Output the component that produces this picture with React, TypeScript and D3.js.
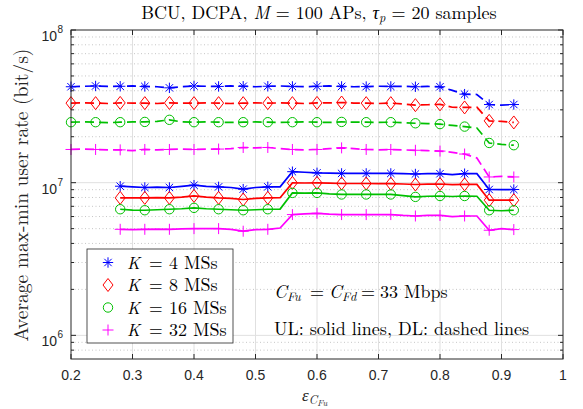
import React from 'react';
import * as d3 from 'd3';

const W = 583;
const H = 409;

// x positions of the curve samples (epsilon_CFu)
const xs = [0.2, 0.22, 0.24, 0.26, 0.28, 0.3, 0.32, 0.34, 0.36, 0.38, 0.4, 0.42, 0.44, 0.46, 0.48, 0.5, 0.52, 0.54,
  0.56, 0.58, 0.6, 0.62, 0.64, 0.66, 0.68, 0.7, 0.72, 0.74, 0.76, 0.78, 0.8, 0.82, 0.84, 0.86, 0.88, 0.9, 0.92];

const xTickValues = [0.2, 0.3, 0.4, 0.5, 0.6, 0.7, 0.8, 0.9, 1];
const xTickLabels = ['0.2', '0.3', '0.4', '0.5', '0.6', '0.7', '0.8', '0.9', '1'];
const yMajorTicks = [1e6, 1e7, 1e8];
const yTickExponents = ['6', '7', '8'];
const yMinorTicks = [8e5, 9e5, 2e6, 3e6, 4e6, 5e6, 6e6, 7e6, 8e6, 9e6, 2e7, 3e7, 4e7, 5e7, 6e7, 7e7, 8e7, 9e7];

// DL (dashed) — values in units of 1e7 bit/s
const dlK4 = [4.25, 4.28, 4.3, 4.27, 4.28, 4.3, 4.27, 4.25, 4.18, 4.25, 4.3, 4.28, 4.27, 4.3, 4.28, 4.25, 4.28, 4.3,
  4.27, 4.25, 4.28, 4.3, 4.27, 4.25, 4.26, 4.28, 4.27, 4.28, 4.25, 4.27, 4.25, 4.02, 3.8, 3.78, 3.25, 3.22, 3.25];
const dlK8 = [3.32, 3.33, 3.32, 3.3, 3.33, 3.32, 3.32, 3.3, 3.33, 3.32, 3.32, 3.33, 3.32, 3.3, 3.32, 3.33, 3.32, 3.33,
  3.32, 3.3, 3.33, 3.33, 3.35, 3.32, 3.32, 3.3, 3.32, 3.28, 3.22, 3.24, 3.26, 3.12, 3.11, 3.12, 2.54, 2.52, 2.48];
const dlK16 = [2.49, 2.5, 2.49, 2.47, 2.49, 2.5, 2.5, 2.52, 2.58, 2.5, 2.49, 2.5, 2.49, 2.48, 2.49, 2.5, 2.49, 2.48,
  2.49, 2.5, 2.49, 2.48, 2.5, 2.49, 2.49, 2.48, 2.49, 2.47, 2.45, 2.44, 2.42, 2.37, 2.33, 2.28, 1.82, 1.78, 1.76];
const dlK32 = [1.65, 1.66, 1.65, 1.64, 1.64, 1.62, 1.65, 1.64, 1.65, 1.66, 1.65, 1.66, 1.66, 1.67, 1.7, 1.69, 1.7, 1.67,
  1.65, 1.64, 1.65, 1.67, 1.69, 1.67, 1.65, 1.64, 1.65, 1.64, 1.63, 1.62, 1.61, 1.58, 1.54, 1.45, 1.09, 1.1, 1.09];

// UL (solid) — values in units of 1e6 bit/s (first four samples absent)
const ulK4 = [null, null, null, null, 9.48, 9.4, 9.3, 9.35, 9.3, 9.45, 9.63, 9.45, 9.39, 9.3, 9.07, 9.3, 9.39, 9.4,
  11.8, 11.7, 11.6, 11.55, 11.5, 11.5, 11.5, 11.5, 11.5, 11.45, 11.4, 11.45, 11.45, 11.3, 11.45, 11.45, 9.02, 9.0, 9.02];
const ulK8 = [null, null, null, null, 7.95, 7.95, 7.95, 7.98, 7.95, 8.05, 8.19, 8.05, 7.95, 7.9, 7.76, 7.9, 7.95, 7.97,
  9.97, 9.95, 9.97, 9.92, 9.88, 9.88, 9.88, 9.85, 9.85, 9.8, 9.73, 9.78, 9.8, 9.7, 9.75, 9.75, 7.68, 7.68, 7.68];
const ulK16 = [null, null, null, null, 6.7, 6.62, 6.6, 6.65, 6.7, 6.75, 6.84, 6.75, 6.7, 6.65, 6.6, 6.65, 6.7, 6.72,
  8.57, 8.55, 8.57, 8.45, 8.37, 8.37, 8.37, 8.37, 8.37, 8.22, 8.07, 8.15, 8.18, 8.12, 8.18, 8.15, 6.6, 6.55, 6.6];
const ulK32 = [null, null, null, null, 4.95, 4.92, 4.95, 4.97, 4.95, 4.98, 5.0, 5.0, 5.0, 4.95, 4.81, 4.92, 4.95, 5.05,
  6.18, 6.25, 6.3, 6.22, 6.18, 6.18, 6.18, 6.18, 6.18, 6.1, 6.05, 6.1, 6.1, 6.0, 6.05, 6.05, 4.88, 5.0, 4.93];

const seriesNames = ['4', '8', '16', '32'];
const seriesColors = ['#0000ff', '#ff0000', '#00c000', '#ff00ff'];
const seriesMarkers = ['asterisk', 'diamond', 'circle', 'plus'];

const SERIF = "'Latin Modern Roman', 'CMU Serif', 'Liberation Serif', 'DejaVu Serif', serif";
const SANS = "'Liberation Sans', Arial, Helvetica, sans-serif";

const margin = { left: 71, right: 563, top: 30, bottom: 359 };

function Marker({ type, cx, cy, color }: { type: string; cx: number; cy: number; color: string }) {
  const sw = 1;
  if (type === 'asterisk') {
    const r = 5.2;
    const d = 3.7;
    return (
      <path
        d={`M${cx - r},${cy}H${cx + r}M${cx},${cy - r}V${cy + r}M${cx - d},${cy - d}L${cx + d},${cy + d}M${cx - d},${cy + d}L${cx + d},${cy - d}`}
        stroke={color} strokeWidth={sw} fill="none" />
    );
  }
  if (type === 'diamond') {
    return (
      <path d={`M${cx},${cy - 6.5}L${cx + 5},${cy}L${cx},${cy + 6.5}L${cx - 5},${cy}Z`} stroke={color} strokeWidth={sw} fill="none" />
    );
  }
  if (type === 'circle') {
    return <circle cx={cx} cy={cy} r={4.7} stroke={color} strokeWidth={sw} fill="none" />;
  }
  const r = 5.5;
  return <path d={`M${cx - r},${cy}H${cx + r}M${cx},${cy - r}V${cy + r}`} stroke={color} strokeWidth={sw} fill="none" />;
}

export default function App() {
  const x = d3.scaleLinear().domain([0.2, 1]).range([margin.left, margin.right]);
  const y = d3.scaleLog().domain([7e5, 1e8]).range([margin.bottom, margin.top]);

  const dl = [dlK4, dlK8, dlK16, dlK32].map((arr) => arr.map((v) => v * 1e7));
  const ul = [ulK4, ulK8, ulK16, ulK32].map((arr) => arr.map((v) => (v == null ? null : v * 1e6)));

  const line = d3
    .line<[number, number | null]>()
    .defined((d) => d[1] != null)
    .x((d) => x(d[0]))
    .y((d) => y(d[1] as number));

  const axisColor = '#262626';

  return (
    <div style={{ margin: 0 }}>
      <svg width={W} height={H} style={{ position: 'absolute', left: 0, top: 0, background: '#fff' }}>
        <rect x={0} y={0} width={W} height={H} fill="#fff" />
        {/* minor y grid */}
        {yMinorTicks.map((t) => (
          <line key={'mg' + t} x1={margin.left} x2={margin.right} y1={y(t)} y2={y(t)} stroke="#b8b8b8" strokeWidth={0.8} strokeDasharray="1,2.5" />
        ))}
        {/* major grid */}
        {xTickValues.slice(1, -1).map((t) => (
          <line key={'gx' + t} x1={x(t)} x2={x(t)} y1={margin.top} y2={margin.bottom} stroke="#e0e0e0" strokeWidth={1} />
        ))}
        {yMajorTicks.slice(0, 2).map((t) => (
          <line key={'gy' + t} x1={margin.left} x2={margin.right} y1={y(t)} y2={y(t)} stroke="#e0e0e0" strokeWidth={1} />
        ))}

        {/* DL dashed lines */}
        {dl.map((arr, i) => (
          <path key={'dl' + i} d={line(xs.map((xv, j) => [xv, arr[j]]) as any) || ''} fill="none" stroke={seriesColors[i]} strokeWidth={1.7} strokeDasharray="9,5" />
        ))}
        {/* UL solid lines */}
        {ul.map((arr, i) => (
          <path key={'ul' + i} d={line(xs.map((xv, j) => [xv, arr[j]]) as any) || ''} fill="none" stroke={seriesColors[i]} strokeWidth={1.7} />
        ))}
        {/* markers */}
        {dl.map((arr, i) =>
          arr.map((v, j) =>
            j % 2 === 0 ? <Marker key={'mdl' + i + '-' + j} type={seriesMarkers[i]} cx={x(xs[j])} cy={y(v)} color={seriesColors[i]} /> : null
          )
        )}
        {ul.map((arr, i) =>
          arr.map((v, j) =>
            j % 2 === 0 && v != null ? (
              <Marker key={'mul' + i + '-' + j} type={seriesMarkers[i]} cx={x(xs[j])} cy={y(v)} color={seriesColors[i]} />
            ) : null
          )
        )}

        {/* axes box */}
        <rect x={margin.left} y={margin.top} width={margin.right - margin.left} height={margin.bottom - margin.top} fill="none" stroke={axisColor} strokeWidth={1} />
        {xTickValues.map((t) => (
          <g key={'xt' + t}>
            <line x1={x(t)} x2={x(t)} y1={margin.bottom} y2={margin.bottom - 5} stroke={axisColor} />
            <line x1={x(t)} x2={x(t)} y1={margin.top} y2={margin.top + 5} stroke={axisColor} />
          </g>
        ))}
        {yMajorTicks.map((t) => (
          <g key={'yt' + t}>
            <line x1={margin.left} x2={margin.left + 5} y1={y(t)} y2={y(t)} stroke={axisColor} />
            <line x1={margin.right} x2={margin.right - 5} y1={y(t)} y2={y(t)} stroke={axisColor} />
          </g>
        ))}
        {yMinorTicks.map((t) => (
          <g key={'ymt' + t}>
            <line x1={margin.left} x2={margin.left + 3} y1={y(t)} y2={y(t)} stroke={axisColor} />
            <line x1={margin.right} x2={margin.right - 3} y1={y(t)} y2={y(t)} stroke={axisColor} />
          </g>
        ))}

        {/* x tick labels */}
        {xTickValues.map((t, i) => (
          <text key={'xl' + t} x={x(t)} y={380} textAnchor="middle" fontFamily={SANS} fontSize={14} fill={axisColor}>
            {xTickLabels[i]}
          </text>
        ))}
        {/* y tick labels */}
        {yMajorTicks.map((t) => (
          <text key={'yl' + t} x={57} y={y(t) + 11} textAnchor="end" fontFamily={SANS} fontSize={14} fill={axisColor}>
            10
          </text>
        ))}
        {yMajorTicks.map((t, i) => (
          <text key={'yle' + t} x={57.5} y={y(t) + 3} textAnchor="start" fontFamily={SANS} fontSize={10} fill={axisColor}>
            {yTickExponents[i]}
          </text>
        ))}

        {/* title */}
        <text x={319} y={19} textAnchor="middle" fontFamily={SERIF} fontSize={18} fill="#000">
          BCU, DCPA, <tspan fontStyle="italic">M</tspan> = 100 APs, <tspan fontStyle="italic">τ</tspan>
          <tspan fontStyle="italic" fontSize={12.5} dy={3}>p</tspan>
          <tspan dy={-3}> = 20 samples</tspan>
        </text>

        {/* y label */}
        <text transform={`translate(28,195) rotate(-90)`} textAnchor="middle" fontFamily={SERIF} fontSize={19.5} fill="#262626">
          Average max-min user rate (bit/s)
        </text>

        {/* x label */}
        <text x={302} y={401} fontFamily={SERIF} fontSize={17} fill="#262626">
          <tspan fontStyle="italic">ε</tspan>
          <tspan fontStyle="italic" fontSize={12} dy={3}>C</tspan>
          <tspan fontStyle="italic" fontSize={9} dy={2}>Fu</tspan>
        </text>

        {/* legend */}
        <rect x={87} y={249} width={146} height={94} fill="#fff" stroke={axisColor} strokeWidth={0.8} />
        {seriesNames.map((n, i) => {
          const cy = 262.5 + i * 22.5;
          return (
            <g key={'lg' + n}>
              <Marker type={seriesMarkers[i]} cx={108} cy={cy} color={seriesColors[i]} />
              <text x={127} y={cy + 6} fontFamily={SERIF} fontSize={17} fontStyle="italic" fill="#000">K</text>
              <text x={149} y={cy + 6} fontFamily={SERIF} fontSize={17.5} fill="#000">=</text>
              <text x={169} y={cy + 6} fontFamily={SERIF} fontSize={18} fill="#000">{n} MSs</text>
            </g>
          );
        })}

        {/* annotations */}
        <text x={274} y={298} fontFamily={SERIF} fontSize={18} fontStyle="italic" fill="#000">
          C<tspan fontSize={12.5} dy={3}>Fu</tspan>
        </text>
        <text x={310} y={298} fontFamily={SERIF} fontSize={18} fill="#000">=</text>
        <text x={329} y={298} fontFamily={SERIF} fontSize={18} fontStyle="italic" fill="#000">
          C<tspan fontSize={12.5} dy={3}>Fd</tspan>
        </text>
        <text x={361} y={298} fontFamily={SERIF} fontSize={18} fill="#000">=</text>
        <text x={380} y={298} fontFamily={SERIF} fontSize={18} fill="#000">33 Mbps</text>
        <text x={274} y={335} fontFamily={SERIF} fontSize={18} fill="#000">
          UL: solid lines, DL: dashed lines
        </text>
      </svg>
    </div>
  );
}
